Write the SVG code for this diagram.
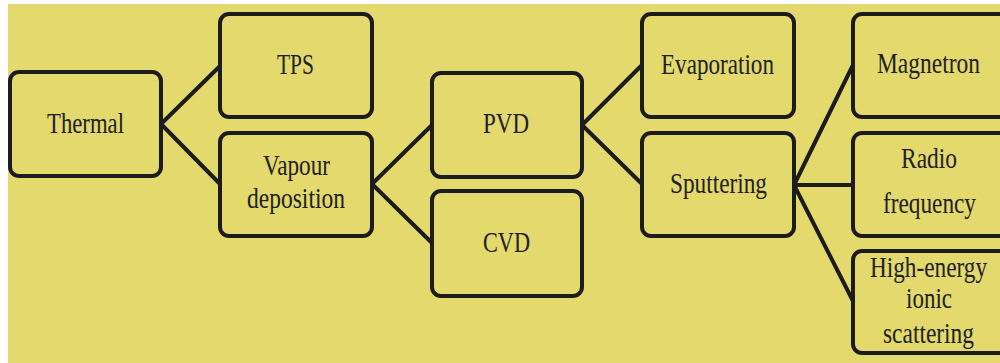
<svg xmlns="http://www.w3.org/2000/svg" width="1000" height="363" viewBox="0 0 1000 363">
<style>
.box{fill:#e3d96d;stroke:#1c1c1c;stroke-width:4}
.lbl{font-family:"Liberation Serif","Times New Roman",serif;font-size:30px;fill:#222;text-anchor:middle}
.conn line{stroke:#1c1c1c;stroke-width:4;stroke-linecap:round}
</style>
<rect x="0" y="0" width="1000" height="363" fill="#ffffff"/>
<rect x="8" y="4" width="992" height="359" fill="#e3d96d"/>
<g id="connectors" class="conn">
<line x1="161" y1="124" x2="220" y2="66"/>
<line x1="161" y1="124" x2="220" y2="184"/>
<line x1="372" y1="184" x2="432" y2="125"/>
<line x1="372" y1="184" x2="432" y2="243"/>
<line x1="582" y1="125" x2="642" y2="65"/>
<line x1="582" y1="125" x2="642" y2="184"/>
<line x1="794" y1="185" x2="853" y2="65"/>
<line x1="794" y1="185" x2="853" y2="185"/>
<line x1="794" y1="185" x2="853" y2="301"/>
</g>
<g id="thermal"><rect class="box" x="10" y="72" width="151" height="104" rx="9"/><text class="lbl" x="85.5" y="133" textLength="77" lengthAdjust="spacingAndGlyphs">Thermal</text></g>
<g id="tps"><rect class="box" x="220" y="14" width="152" height="103" rx="9"/><text class="lbl" x="295.5" y="74" textLength="37" lengthAdjust="spacingAndGlyphs">TPS</text></g>
<g id="vapour"><rect class="box" x="220" y="133" width="152" height="103" rx="9"/><text class="lbl" x="296.5" y="175" textLength="67" lengthAdjust="spacingAndGlyphs">Vapour</text><text class="lbl" x="296" y="208" textLength="98" lengthAdjust="spacingAndGlyphs">deposition</text></g>
<g id="pvd"><rect class="box" x="432" y="73" width="150" height="104" rx="9"/><text class="lbl" x="506" y="133" textLength="46" lengthAdjust="spacingAndGlyphs">PVD</text></g>
<g id="cvd"><rect class="box" x="432" y="191" width="150" height="105" rx="9"/><text class="lbl" x="506.5" y="252" textLength="47" lengthAdjust="spacingAndGlyphs">CVD</text></g>
<g id="evaporation"><rect class="box" x="642" y="14" width="152" height="103" rx="9"/><text class="lbl" x="717.5" y="74" textLength="113" lengthAdjust="spacingAndGlyphs">Evaporation</text></g>
<g id="sputtering"><rect class="box" x="642" y="133" width="152" height="103" rx="9"/><text class="lbl" x="718.5" y="193" textLength="97" lengthAdjust="spacingAndGlyphs">Sputtering</text></g>
<g id="magnetron"><rect class="box" x="853" y="14" width="160" height="103" rx="9"/><text class="lbl" x="928.5" y="73" textLength="103" lengthAdjust="spacingAndGlyphs">Magnetron</text></g>
<g id="radio"><rect class="box" x="853" y="133" width="160" height="103" rx="9"/><text class="lbl" x="929" y="168" textLength="56" lengthAdjust="spacingAndGlyphs">Radio</text><text class="lbl" x="929.5" y="213" textLength="93" lengthAdjust="spacingAndGlyphs">frequency</text></g>
<g id="highenergy"><rect class="box" x="853" y="251" width="160" height="102" rx="9"/><text class="lbl" x="928.5" y="277" textLength="117" lengthAdjust="spacingAndGlyphs">High-energy</text><text class="lbl" x="929" y="308" textLength="46" lengthAdjust="spacingAndGlyphs">ionic</text><text class="lbl" x="928.5" y="343" textLength="91" lengthAdjust="spacingAndGlyphs">scattering</text></g>
</svg>
